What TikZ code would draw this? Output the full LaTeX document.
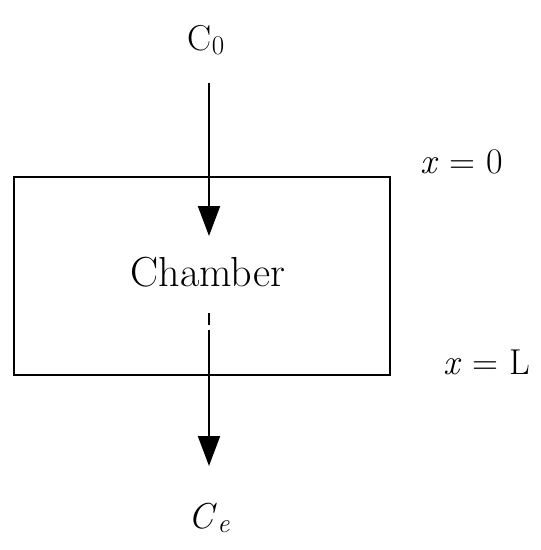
\documentclass[tikz,border=0pt]{standalone}
\usepackage{tikz}
\usetikzlibrary{arrows.meta,positioning}

\begin{document}
\begin{tikzpicture}[
    x=1pt, y=-1pt,
    label/.style={inner sep=0pt, font=\fontsize{36}{40}\selectfont},
    chamberbox/.style={rectangle, draw, line width=2pt, minimum width=376pt,
                       minimum height=198pt},
    flow/.style={line width=2pt, -{Triangle[length=30pt, width=22pt]}}
]
\useasboundingbox (0,0) rectangle (541,550);

% Chamber
\node[chamberbox] (chamber) at (202,276) {};
\node[label, font=\fontsize{42}{46}\selectfont] (name) at (208,272) {Chamber};

% Inlet and outlet concentrations
\node[label] (c0) at (206,40) {C\raisebox{-0.12em}{\fontsize{27}{30}\selectfont 0}};
\node[label] (ce) at (209,518) {\textit{C}\raisebox{-0.12em}{\fontsize{27}{30}\selectfont\itshape e}};

% Boundaries
\node[label] (top) at (462,162) {\textit{x} = 0};
\node[label] (bottom) at (487,362) {\textit{x} = L};

% Flow
\coordinate (inA) at (209,83);
\coordinate (inB) at (209,236);
\coordinate (outA) at (209,313);
\coordinate (outB) at (209,325);
\coordinate (outC) at (209,330);
\coordinate (outD) at (209,466);
\draw[flow] (inA) -- (inB);
\draw[line width=2pt] (outA) -- (outB);
\draw[flow] (outC) -- (outD);

\end{tikzpicture}
\end{document}
